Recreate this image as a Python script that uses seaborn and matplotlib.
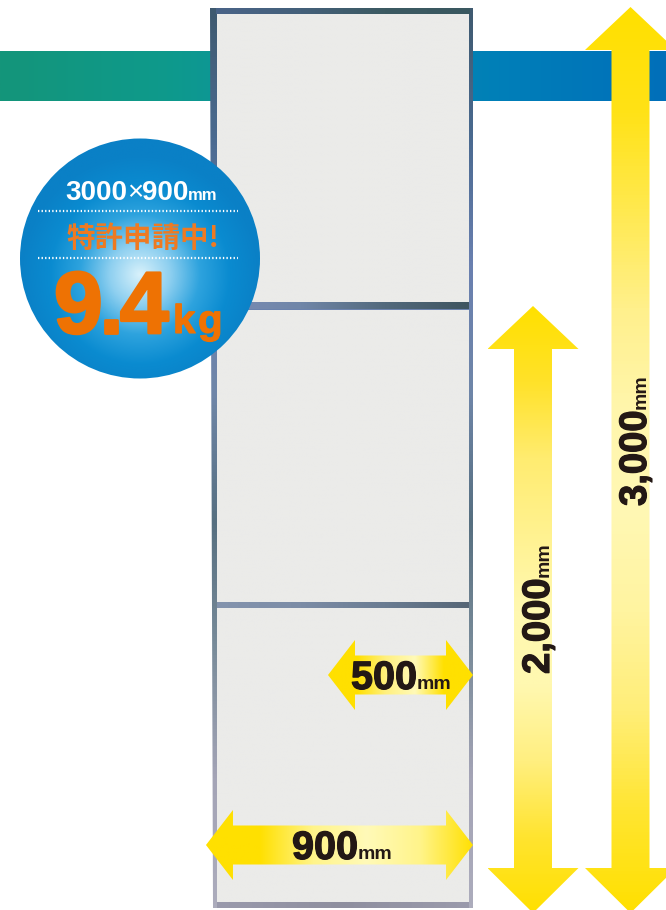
import numpy as np
import matplotlib.pyplot as plt
import matplotlib.patheffects as pe
from matplotlib.patches import Polygon, Circle
import seaborn as sns

# valores (mm)
alturas_mm = [3000, 2000]
anchos_mm = [900, 500]
rieles_mm = [2000, 1000]
esc_v = 0.299
esc_h = [0.2967, 0.29]
peso = "9.4"
marcados = ["3000", "×", "900", "mm"]
patente = "特許申請中!"

sns.set_theme(style="white")
plt.rcParams['font.family'] = ['Liberation Sans', 'Noto Sans CJK JP', 'DejaVu Sans']

AMARILLO = "#ffe000"
PALIDO = "#fffab8"
NEGRO = "#231815"
NARANJA = "#ee7203"
PANEL = "#ebebe9"

fig = plt.figure(figsize=(6.66, 9.10), dpi=100)
ax = fig.add_axes([0, 0, 1, 1])
ax.set_axis_off()

piso = 904
borde_der = 473


def y_mm(mm):
    return piso - mm * esc_v


def gradiente(pts, colores, vertical=True, z=2):
    # imagen con degradado recortada por el poligono
    pts = np.array(pts)
    x0, x1, y0, y1 = pts[:, 0].min(), pts[:, 0].max(), pts[:, 1].min(), pts[:, 1].max()
    cmap = sns.blend_palette(colores, as_cmap=True)
    g = np.linspace(0, 1, 256)
    img = g[:, None] if vertical else g[None, :]
    im = ax.imshow(img, cmap=cmap, extent=(x0, x1, y1, y0), aspect='auto', zorder=z, origin='upper')
    clip = Polygon(pts, transform=ax.transData, fc='none', ec='none')
    ax.add_patch(clip)
    im.set_clip_path(clip)


def flecha_v(xc, arriba, abajo, colores, z=6):
    sh, hw, hh = 19, 45.5, 43
    pts = [(xc, arriba), (xc + hw, arriba + hh), (xc + sh, arriba + hh), (xc + sh, abajo - 45),
           (xc + hw, abajo - 45), (xc, abajo), (xc - hw, abajo - 45), (xc - sh, abajo - 45),
           (xc - sh, arriba + hh), (xc - hw, arriba + hh)]
    gradiente(pts, colores, True, z)


def flecha_h(izq, der, yc, colores, z=6):
    sh, hh, hw = 19.5, 35, 27
    pts = [(izq, yc), (izq + hw, yc - hh), (izq + hw, yc - sh), (der - hw, yc - sh), (der - hw, yc - hh),
           (der, yc), (der - hw, yc + hh), (der - hw, yc + sh), (izq + hw, yc + sh), (izq + hw, yc + hh)]
    gradiente(pts, colores, False, z)


def caja(x0, y0, x1, y1):
    return [(x0, y0), (x1, y0), (x1, y1), (x0, y1)]


# banda de fondo
gradiente(caja(0, 51, 666, 101), ["#14957a", "#0e9a8c", "#0a8fa8", "#007fb8", "#006fba"], False, 1)

# marco del panel
gradiente([(210, 8), (473, 8), (473, 908), (213, 908)],
          ["#3f5a70", "#4a6a90", "#6a80b0", "#6f86a8", "#566f80", "#7a8c9a", "#a4a4b6", "#acacbc"], True, 2)
riel_a, riel_b = y_mm(rieles_mm[0]), y_mm(rieles_mm[1])
for a, b in [(14, riel_a - 4), (riel_a + 3.5, riel_b - 3), (riel_b + 3, 902)]:
    gradiente(caja(217, a, 469, b), [PANEL, PANEL], True, 3)

# rieles horizontales
gradiente(caja(216, 8, 470, 14), ["#4a6488", "#44607a", "#3c5a62", "#3a5860"], False, 4)
gradiente(caja(217, riel_a - 4, 469, riel_a + 3.5), ["#7a8cb5", "#7086a8", "#52697c", "#3f5560"], False, 4)
gradiente(caja(217, riel_b - 3, 469, riel_b + 3), ["#8494ae", "#7c8ca6", "#6a7c92", "#566676"], False, 4)
gradiente(caja(217, 902, 469, 908), ["#9a9aac", "#8f8f9f", "#9a9aac"], False, 4)

# flechas
pal_3000 = [AMARILLO, "#ffe215", "#ffe94f", "#fff08c", "#fff6ac", "#fff8b4", "#fff4a0", "#ffee78", "#ffe530", AMARILLO]
pal_2000 = [AMARILLO, "#ffe22a", "#ffec70", "#fff290", "#fff8b0", "#fff8b0", "#ffef80", "#ffe430", AMARILLO]
flecha_v(630.5, y_mm(alturas_mm[0]), y_mm(0) + 9, pal_3000)
flecha_v(533, y_mm(alturas_mm[1]), y_mm(0) + 9, pal_2000)
flecha_h(borde_der - anchos_mm[0] * esc_h[0], borde_der, 845,
         [AMARILLO, AMARILLO, "#fff48a", PALIDO, "#fff48a", AMARILLO])
flecha_h(borde_der - anchos_mm[1] * esc_h[1], borde_der, 675,
         [AMARILLO, AMARILLO, "#fff080", PALIDO, AMARILLO, AMARILLO])

# etiquetas de las flechas
negrita = [pe.withStroke(linewidth=0.9, foreground=NEGRO)]
for txt, x, y in [(anchos_mm[1], 351, 689), (anchos_mm[0], 292, 859)]:
    ax.text(x, y, str(txt), fontsize=28.5, fontweight='bold', color=NEGRO, va='baseline', ha='left',
            path_effects=negrita, zorder=8)
    ax.text(x + 65.5, y, "mm", fontsize=14, fontweight='bold', color=NEGRO, va='baseline', ha='left', zorder=8)
for alto, x, y in [(alturas_mm[1], 549, 674), (alturas_mm[0], 646, 506)]:
    ax.text(x, y, f"{alto:,}", fontsize=27.5, fontweight='bold', color=NEGRO, rotation=90,
            rotation_mode='anchor', va='baseline', ha='left', path_effects=negrita, zorder=8)
    ax.text(x, y - 97, "mm", fontsize=14, fontweight='bold', color=NEGRO, rotation=90,
            rotation_mode='anchor', va='baseline', ha='left', zorder=8)

# circulo
cx, cy, r = 140, 258.5, 120
yy, xx = np.mgrid[cy - r - 2:cy + r + 2:400j, cx - r - 2:cx + r + 2:400j]
dist = np.hypot(xx - cx, (yy - 275)) / r
cmap = sns.blend_palette(["#d8f1fb", "#8fd0f0", "#2ea3de", "#0a8bd0", "#0a80c6"], as_cmap=True)
im = ax.imshow(np.clip(dist, 0, 1), cmap=cmap, extent=(cx - r - 2, cx + r + 2, cy + r + 2, cy - r - 2),
               aspect='auto', zorder=9, vmin=0, vmax=1)
clip = Circle((cx, cy), r, transform=ax.transData, fc='none', ec='none')
ax.add_patch(clip)
im.set_clip_path(clip)

for y in (211, 258):
    ax.plot([38, 238], [y, y], color="white", lw=1.6, ls=(0, (0.6, 1.0)), zorder=10)

for txt, x, fs, w in zip(marcados, [65, 127, 142, 188], [20, 20, 20, 12], ['bold', 'normal', 'bold', 'bold']):
    ax.text(x, 200.5, txt, color="white", fontsize=fs, fontweight=w, va='baseline', ha='left', zorder=11)

ax.text(67, 247, patente, color="#ee7a22", fontsize=20.5, fontweight='bold', va='baseline', ha='left',
        family=['Noto Sans CJK JP', 'DejaVu Sans'], zorder=11)

grueso = [pe.withStroke(linewidth=2, foreground=NARANJA)]
for c, x in zip(peso, [54, 99, 120]):
    ax.text(x, 333, c, color=NARANJA, fontsize=63, fontweight='bold', va='baseline', ha='left',
            path_effects=grueso, zorder=11)
fino = [pe.withStroke(linewidth=0.8, foreground=NARANJA)]
for c, x in zip("kg", [173, 198]):
    ax.text(x, 333, c, color=NARANJA, fontsize=29, fontweight='bold', va='baseline', ha='left',
            path_effects=fino, zorder=11)

ax.set_xlim(0, 666)
ax.set_ylim(910, 0)
fig.savefig("out.png", dpi=100)
